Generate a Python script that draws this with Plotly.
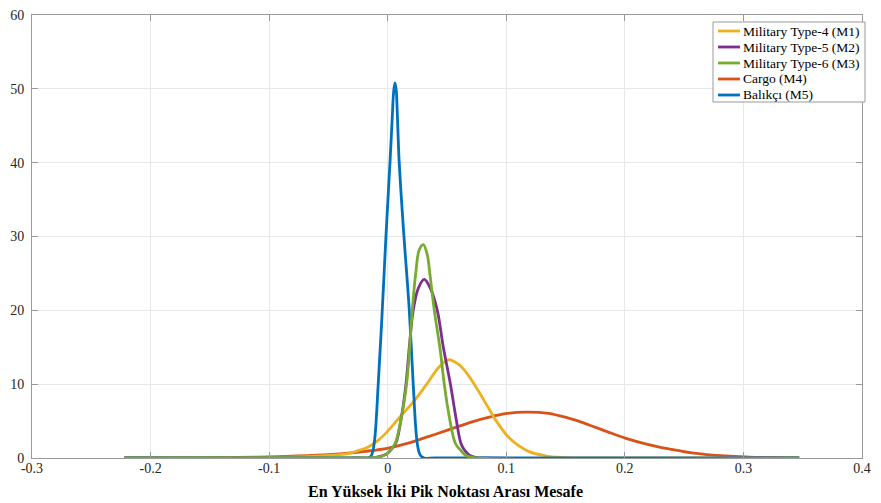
import plotly.graph_objects as go

# ---- data ----
names = ["Military Type-4 (M1)", "Military Type-5 (M2)", "Military Type-6 (M3)", "Cargo (M4)", "Balıkçı (M5)"]
colors = ["#EDB120", "#7E2F8E", "#77AC30", "#D95319", "#0072BD"]

m1_x = [-0.222, -0.12, -0.0756, -0.0503, -0.0334, -0.0249, -0.0165, -0.008, -0.0013, 0.0089, 0.0232,
        0.0342, 0.0426, 0.0511, 0.0596, 0.068, 0.0764, 0.0849, 0.0908, 0.1026, 0.1187, 0.133, 0.1465,
        0.1693, 0.347]
m1_y = [0.0, 0.03, 0.15, 0.35, 0.6, 1.0, 1.5, 2.4, 3.4, 5.3, 7.9,
        10.3, 12.2, 13.3, 12.7, 11.2, 9.1, 6.8, 5.2, 2.7, 0.9, 0.3, 0.08,
        0.01, 0.0]

m2_x = [-0.222, -0.0249, -0.0097, -0.0013, 0.0021, 0.0068, 0.011, 0.0154, 0.0182, 0.0215, 0.0258,
        0.0308, 0.0359, 0.0418, 0.0469, 0.0529, 0.0574, 0.0617, 0.0646, 0.0688, 0.0739, 0.0832, 0.347]
m2_y = [0.0, 0.0, 0.1, 0.5, 1.0, 2.0, 5.0, 10.0, 15.0, 20.0, 23.0,
        24.2, 23.0, 20.0, 15.0, 10.0, 5.6, 2.0, 1.1, 0.4, 0.1, 0.0, 0.0]

m3_x = [-0.222, -0.025, -0.0122, -0.0038, 0.0021, 0.0063, 0.0097, 0.0159, 0.0207, 0.0236, 0.0266,
        0.030, 0.0334, 0.0355, 0.0393, 0.0443, 0.0477, 0.0519, 0.057, 0.0612, 0.0663, 0.0764, 0.347]
m3_y = [0.0, 0.0, 0.05, 0.3, 1.0, 2.0, 4.0, 10.0, 20.0, 25.0, 28.2,
        28.9, 27.5, 25.0, 20.0, 14.6, 10.0, 5.6, 2.0, 1.1, 0.3, 0.0, 0.0]

m4_x = [-0.222, -0.16, -0.1263, -0.1009, -0.0756, -0.0477, -0.0334, -0.019, 0.0004, 0.0173, 0.0342,
        0.0511, 0.0705, 0.0849, 0.0992, 0.1161, 0.1356, 0.1525, 0.1609, 0.1753, 0.1888, 0.2031,
        0.2175, 0.231, 0.2454, 0.2564, 0.2851, 0.3045, 0.3273, 0.347]
m4_y = [0.01, 0.03, 0.08, 0.15, 0.27, 0.48, 0.65, 0.9, 1.35, 2.02, 2.9,
        3.8, 4.87, 5.5, 6.0, 6.22, 6.05, 5.4, 5.0, 4.15, 3.35, 2.55,
        1.9, 1.42, 1.0, 0.7, 0.27, 0.13, 0.05, 0.02]

m5_x = [-0.222, -0.025, -0.0165, -0.0139, -0.0114, -0.008, -0.0046, -0.0015, 0.0019, 0.0038, 0.005,
        0.0061, 0.0072, 0.008, 0.0097, 0.0137, 0.0182, 0.0215, 0.0249, 0.0274, 0.0308, 0.04, 0.347]
m5_y = [0.0, 0.0, 0.0, 0.3, 2.0, 10.0, 20.0, 30.0, 40.0, 46.0, 49.6,
        50.8, 49.8, 47.0, 40.0, 30.0, 20.0, 10.0, 2.0, 0.4, 0.0, 0.0, 0.0]

x_ticks = [-0.3, -0.2, -0.1, 0, 0.1, 0.2, 0.3, 0.4]
x_tick_labels = ["-0.3", "-0.2", "-0.1", "0", "0.1", "0.2", "0.3", "0.4"]
y_ticks = [0, 10, 20, 30, 40, 50, 60]
y_tick_labels = ["0", "10", "20", "30", "40", "50", "60"]
x_title = "En Yüksek İki Pik Noktası Arası Mesafe"

series = [(m1_x, m1_y), (m2_x, m2_y), (m3_x, m3_y), (m4_x, m4_y), (m5_x, m5_y)]
draw_order = [3, 0, 1, 4, 2]   # green drawn on top, as in the reference

W, H = 881, 503
L, R, T, B = 32, 19, 15, 45
PW, PH = W - L - R, H - T - B


def px(xp):
    return (xp - L) / PW


def py(yp):
    return (H - B - yp) / PH


fig = go.Figure()
for i in draw_order:
    xs, ys = series[i]
    fig.add_trace(go.Scatter(
        x=xs, y=ys, mode="lines", name=names[i], showlegend=False,
        line=dict(color=colors[i], width=2.8, shape="spline", smoothing=1.0),
    ))

font_family = "Liberation Serif, Times New Roman, serif"
axis_common = dict(
    showline=True, linecolor="#9a9a9a", linewidth=1, mirror="ticks",
    ticks="inside", ticklen=6, tickcolor="#9a9a9a", tickwidth=1,
    showgrid=True, gridcolor="#e8e8e8", gridwidth=1, zeroline=False,
    automargin=False,
    tickfont=dict(family=font_family, size=14, color="#262626"),
)

# custom legend (box, line samples, labels)
shapes = [dict(type="rect", xref="paper", yref="paper",
               x0=px(713), x1=px(865), y0=py(102), y1=py(22),
               line=dict(color="#9a9a9a", width=1), fillcolor="white", layer="above")]
annotations = []
row_y = [31, 47, 63, 79, 95]
for k in range(5):
    shapes.append(dict(type="line", xref="paper", yref="paper",
                       x0=px(718), x1=px(740), y0=py(row_y[k]), y1=py(row_y[k]),
                       line=dict(color=colors[k], width=2.8), layer="above"))
    annotations.append(dict(xref="paper", yref="paper", x=px(741), y=py(row_y[k]),
                            xanchor="left", yanchor="middle", showarrow=False,
                            text=names[k],
                            font=dict(family=font_family, size=13.5, color="#000000")))

annotations.append(dict(xref="paper", yref="paper", x=px(445), y=py(491),
                        xanchor="center", yanchor="middle", showarrow=False,
                        text="<b>" + x_title + "</b>",
                        font=dict(family=font_family, size=16, color="#000000")))

fig.update_layout(
    width=W, height=H,
    margin=dict(l=L, r=R, t=T, b=B),
    paper_bgcolor="white", plot_bgcolor="white",
    font=dict(family=font_family, color="#262626"),
    showlegend=False,
    xaxis=dict(range=[-0.3, 0.4], tickvals=x_ticks, ticktext=x_tick_labels,
               ticklabelstandoff=-3, **axis_common),
    yaxis=dict(range=[0, 60], tickvals=y_ticks, ticktext=y_tick_labels,
               ticklabelstandoff=4, **axis_common),
    shapes=shapes,
    annotations=annotations,
)

fig.write_html("out.html", config={"displayModeBar": False},
               post_script="document.body.style.margin='0px';")
